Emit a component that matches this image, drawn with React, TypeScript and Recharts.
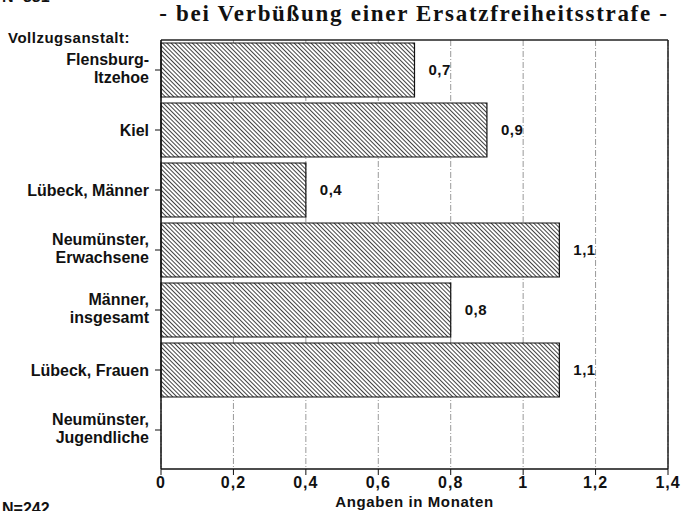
import React from 'react';
import { BarChart, Bar, XAxis, YAxis, CartesianGrid, LabelList, ReferenceLine } from 'recharts';

const anstalten = [
  'Flensburg-|Itzehoe',
  'Kiel',
  'Lübeck, Männer',
  'Neumünster,|Erwachsene',
  'Männer,|insgesamt',
  'Lübeck, Frauen',
  'Neumünster,|Jugendliche',
];
const monate: (number | null)[] = [0.7, 0.9, 0.4, 1.1, 0.8, 1.1, null];
const xTicks = [0, 0.2, 0.4, 0.6, 0.8, 1, 1.2, 1.4];

const data = anstalten.map((name, i) => ({ name, wert: monate[i] }));

const fmt = (v: number) => String(v).replace('.', ',');
const sans = '"Liberation Sans", Arial, sans-serif';

const YTick = (props: any) => {
  const { x, y, payload } = props;
  const lines: string[] = String(payload.value).split('|');
  const start = -((lines.length - 1) * 18) / 2 - (lines.length > 1 ? 2 : 0);
  return (
    <text x={x} y={y} textAnchor="end" fontFamily={sans} fontWeight="bold" fontSize={16} fill="#111">
      {lines.map((l, i) => (
        <tspan key={i} x={x} y={y + start + i * 18} dy="0.35em">{l}</tspan>
      ))}
    </text>
  );
};

const App: React.FC = () => {
  return (
    <div style={{ position: 'absolute', left: 0, top: 0, width: 682, height: 511, background: '#fff', fontFamily: sans, color: '#111' }}>
      <div style={{ position: 'absolute', left: 2, top: -12, fontWeight: 'bold', fontSize: 16 }}>N=881</div>
      <div style={{ position: 'absolute', left: 154, top: 1, width: 520, textAlign: 'center', fontFamily: '"Liberation Serif", "Times New Roman", serif', fontWeight: 'bold', fontSize: 23, letterSpacing: 1.7, whiteSpace: 'nowrap' }}>
        - bei Verbüßung einer Ersatzfreiheitsstrafe -
      </div>
      <div style={{ position: 'absolute', left: 8, top: 29, fontWeight: 'bold', fontSize: 15, letterSpacing: 0.5 }}>Vollzugsanstalt:</div>
      <div style={{ position: 'absolute', left: 2, top: 500, fontWeight: 'bold', fontSize: 16 }}>N=242</div>
      <BarChart
        width={682}
        height={511}
        data={data}
        layout="vertical"
        margin={{ top: 40, right: 14, bottom: 0, left: 0 }}
        barCategoryGap={3}
      >
        <defs>
          <pattern id="schraffur" width="3" height="3" patternUnits="userSpaceOnUse" patternTransform="rotate(-45)">
            <rect width="3" height="3" fill="#fff" />
            <line x1="0" y1="0" x2="0" y2="3" stroke="#111" strokeWidth="1.6" />
          </pattern>
        </defs>
        <CartesianGrid horizontal={false} stroke="#999" strokeDasharray="6 2 1 2" />
        <CartesianGrid vertical={false} horizontalPoints={[40]} stroke="#222" strokeWidth={1.5} />
        <ReferenceLine x={1.4} stroke="#222" strokeWidth={1.5} />
        <XAxis
          type="number"
          domain={[0, 1.4]}
          ticks={xTicks}
          tickFormatter={fmt}
          height={42}
          axisLine={{ stroke: '#111', strokeWidth: 1.5 }}
          tickLine={{ stroke: '#111' }}
          tick={{ fill: '#111', fontSize: 16, fontWeight: 'bold', fontFamily: sans, letterSpacing: 1 }}
          label={{ value: 'Angaben in Monaten', position: 'insideBottom', offset: 4, fill: '#111', fontSize: 15, fontWeight: 'bold', fontFamily: sans, letterSpacing: 0.6 }}
        />
        <YAxis
          type="category"
          dataKey="name"
          width={161}
          padding={{ top: 0, bottom: 9 }}
          axisLine={{ stroke: '#111', strokeWidth: 1.5 }}
          tickLine={{ stroke: '#111' }}
          tick={<YTick />}
          tickMargin={6}
          interval={0}
        />
        <Bar dataKey="wert" fill="url(#schraffur)" stroke="#111" strokeWidth={1.2} isAnimationActive={false}>
          <LabelList
            dataKey="wert"
            position="right"
            offset={14}
            formatter={(v: any) => (v == null ? '' : fmt(v))}
            style={{ fill: '#111', fontSize: 15, fontWeight: 'bold', fontFamily: sans, letterSpacing: 0.5 }}
          />
        </Bar>
      </BarChart>
    </div>
  );
};

export default App;
